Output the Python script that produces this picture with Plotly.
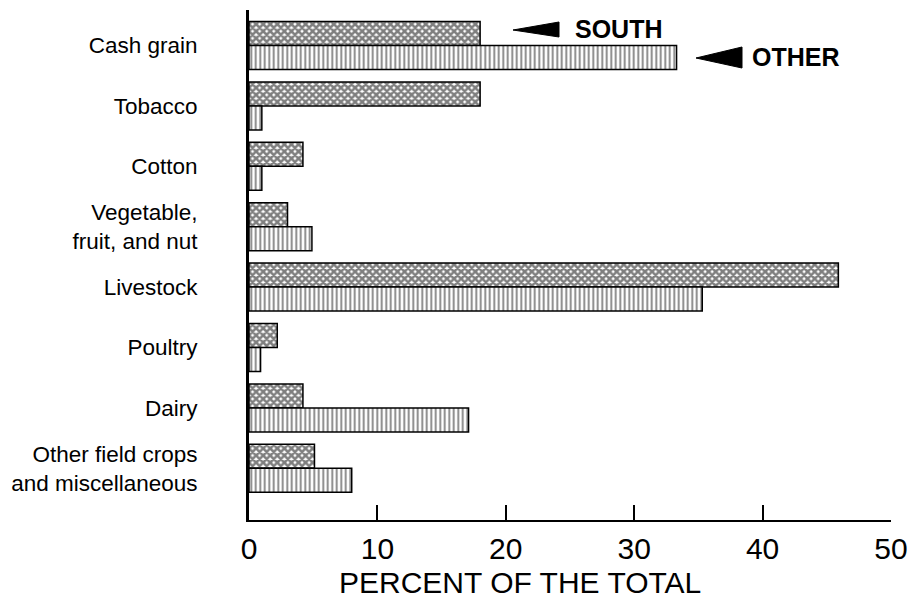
import plotly.graph_objects as go

categories = ["Cash grain", "Tobacco", "Cotton", "Vegetable,<br>fruit, and nut",
              "Livestock", "Poultry", "Dairy", "Other field crops<br>and miscellaneous"]
south = [18.0, 18.0, 4.2, 3.0, 45.9, 2.2, 4.2, 5.1]
other = [33.3, 1.0, 1.0, 4.9, 35.3, 0.9, 17.1, 8.0]
x_ticks = [0, 10, 20, 30, 40, 50]
x_title = "PERCENT OF THE TOTAL"

FONT = "Liberation Sans, Arial, Helvetica, sans-serif"
pos = list(range(len(categories)))

fig = go.Figure()
fig.add_trace(go.Bar(
    y=pos, x=south, orientation="h", name="SOUTH",
    marker=dict(color="white", line=dict(color="black", width=1.5),
                pattern=dict(shape="x", size=5, solidity=0.75,
                             fgcolor="black", bgcolor="white", fillmode="overlay")),
))
fig.add_trace(go.Bar(
    y=pos, x=other, orientation="h", name="OTHER",
    marker=dict(color="white", line=dict(color="black", width=1.5),
                pattern=dict(shape="|", size=4.5, solidity=0.4,
                             fgcolor="black", bgcolor="white", fillmode="overlay")),
))

# the page body adds an 8px margin: the figure is smaller and shifted
fig.update_layout(
    width=908, height=592,
    margin=dict(l=241, r=25, t=2, b=80, autoexpand=False),
    paper_bgcolor="white", plot_bgcolor="white",
    barmode="group", bargap=0.205, bargroupgap=0,
    showlegend=False,
    font=dict(family=FONT, color="black"),
)
fig.update_xaxes(
    range=[0, 50], tickvals=x_ticks, ticktext=[str(v) for v in x_ticks],
    automargin=False,
    showgrid=False, zeroline=False,
    showline=True, linecolor="black", linewidth=2,
    ticks="inside", ticklen=15, tickwidth=2, tickcolor="black",
    tickfont=dict(size=30, family=FONT, color="black"),
    ticklabelstandoff=1,
)
fig.update_yaxes(
    range=[len(categories) - 1 + 0.856, -0.588],
    automargin=False,
    tickvals=pos, ticktext=categories,
    showgrid=False, zeroline=False,
    showline=True, linecolor="black", linewidth=3,
    ticks="", ticklabelstandoff=44,
    tickfont=dict(size=22.5, family=FONT, color="black"),
)

# page pixel -> paper coordinates (plot area spans page x 249..891, y 10..520)
def px_x(px):
    return (px - 249) / 642

def px_y(py):
    return (520 - py) / 510

# x-axis title (sits left of the plot centre in the reference)
fig.add_annotation(text=x_title, xref="paper", yref="paper",
                   x=px_x(520), y=px_y(582), xanchor="center", yanchor="middle",
                   showarrow=False, borderpad=0,
                   font=dict(size=30, family=FONT, color="black"))

# legend arrows
for tip, right, ytop, ybot in [((513, 30), 559, 22, 37), ((696, 58), 742, 47, 68)]:
    path = (f"M {px_x(tip[0])} {px_y(tip[1])} L {px_x(right)} {px_y(ytop)} "
            f"L {px_x(right)} {px_y(ybot)} Z")
    fig.add_shape(type="path", path=path, xref="paper", yref="paper",
                  fillcolor="black", line=dict(color="black", width=1))

fig.add_annotation(text="<b>SOUTH</b>", xref="paper", yref="paper",
                   x=px_x(573), y=px_y(29), xanchor="left", yanchor="middle",
                   showarrow=False, font=dict(size=25, family=FONT, color="black"))
fig.add_annotation(text="<b>OTHER</b>", xref="paper", yref="paper",
                   x=px_x(750), y=px_y(57), xanchor="left", yanchor="middle",
                   showarrow=False, font=dict(size=25, family=FONT, color="black"))

# right frame edge
fig.add_shape(type="line", xref="paper", yref="paper",
              x0=px_x(911), x1=px_x(911), y0=px_y(590), y1=px_y(0),
              line=dict(color="black", width=3), layer="above")

fig.write_html("out.html")
